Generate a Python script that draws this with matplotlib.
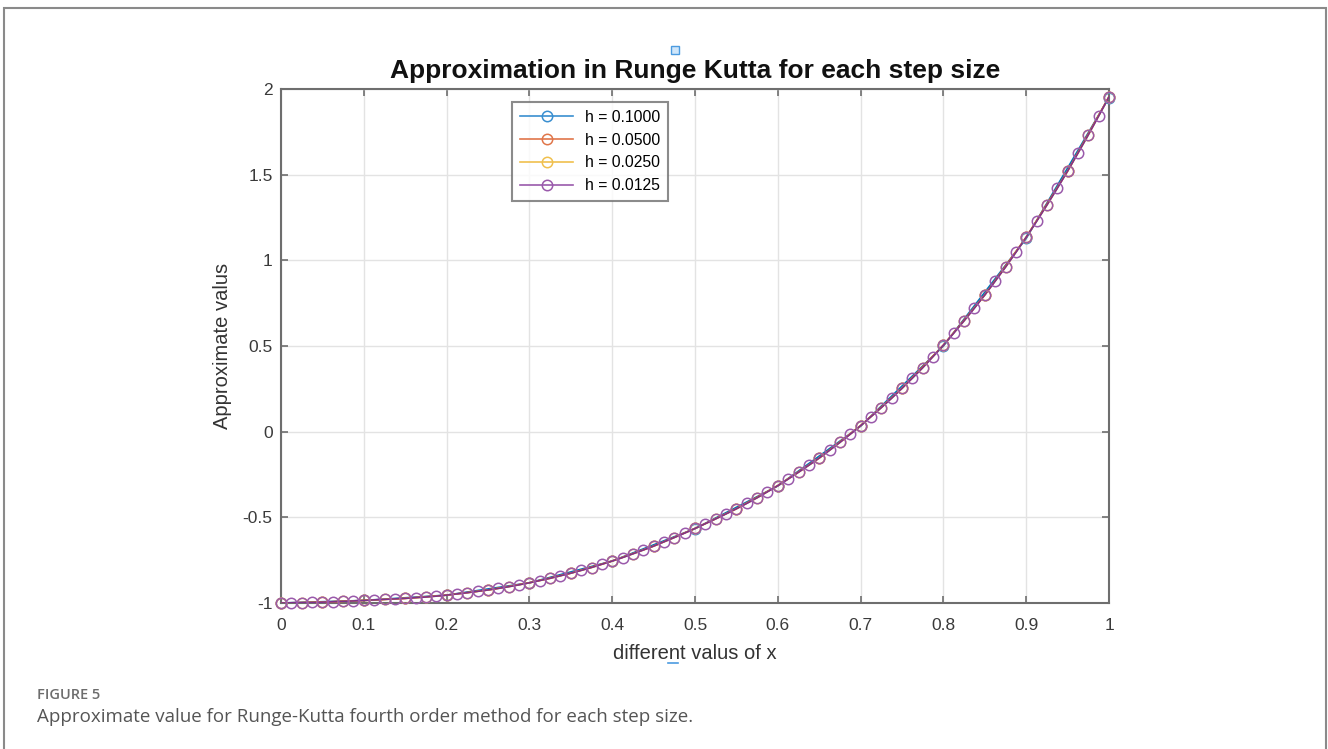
import matplotlib
matplotlib.use("Agg")
import matplotlib.pyplot as plt
from matplotlib.patches import Rectangle

# values
x_h1 = [0.0, 0.1, 0.2, 0.3, 0.4, 0.5, 0.6, 0.7, 0.8, 0.9, 1.0]
y_h1 = [-1.000, -0.985, -0.954, -0.882, -0.755, -0.566, -0.317, 0.032, 0.500,
        1.128, 1.950]

x_h2 = [0.0, 0.05, 0.1, 0.15, 0.2, 0.25, 0.3, 0.35, 0.4, 0.45, 0.5,
        0.55, 0.6, 0.65, 0.7, 0.75, 0.8, 0.85, 0.9, 0.95, 1.0]
y_h2 = [-1.000, -0.995, -0.985, -0.973, -0.954, -0.924, -0.882, -0.826, -0.755,
        -0.668, -0.565, -0.450, -0.315, -0.154, 0.035, 0.253, 0.505, 0.798,
        1.135, 1.521, 1.955]

x_h3 = [0.0, 0.025, 0.05, 0.075, 0.1, 0.125, 0.15, 0.175, 0.2, 0.225, 0.25,
        0.275, 0.3, 0.325, 0.35, 0.375, 0.4, 0.425, 0.45, 0.475, 0.5,
        0.525, 0.55, 0.575, 0.6, 0.625, 0.65, 0.675, 0.7, 0.725, 0.75,
        0.775, 0.8, 0.825, 0.85, 0.875, 0.9, 0.925, 0.95, 0.975, 1.0]
y_h3 = [-1.000, -0.998, -0.995, -0.990, -0.985, -0.979, -0.973, -0.965, -0.954,
        -0.940, -0.924, -0.905, -0.882, -0.856, -0.826, -0.793, -0.755,
        -0.713, -0.668, -0.618, -0.565, -0.509, -0.450, -0.386, -0.315,
        -0.237, -0.154, -0.063, 0.035, 0.140, 0.253, 0.373, 0.505, 0.647,
        0.798, 0.960, 1.135, 1.322, 1.521, 1.732, 1.955]

x_h4 = [0.0, 0.0125, 0.025, 0.0375, 0.05, 0.0625, 0.075, 0.0875,
        0.1, 0.1125, 0.125, 0.1375, 0.15, 0.1625, 0.175, 0.1875,
        0.2, 0.2125, 0.225, 0.2375, 0.25, 0.2625, 0.275, 0.2875,
        0.3, 0.3125, 0.325, 0.3375, 0.35, 0.3625, 0.375, 0.3875,
        0.4, 0.4125, 0.425, 0.4375, 0.45, 0.4625, 0.475, 0.4875,
        0.5, 0.5125, 0.525, 0.5375, 0.55, 0.5625, 0.575, 0.5875,
        0.6, 0.6125, 0.625, 0.6375, 0.65, 0.6625, 0.675, 0.6875,
        0.7, 0.7125, 0.725, 0.7375, 0.75, 0.7625, 0.775, 0.7875,
        0.8, 0.8125, 0.825, 0.8375, 0.85, 0.8625, 0.875, 0.8875,
        0.9, 0.9125, 0.925, 0.9375, 0.95, 0.9625, 0.975, 0.9875, 1.0]
y_h4 = [-1.000, -0.999, -0.998, -0.997, -0.995, -0.993, -0.990, -0.988,
        -0.985, -0.982, -0.979, -0.976, -0.973, -0.969, -0.965, -0.960,
        -0.954, -0.947, -0.940, -0.932, -0.924, -0.915, -0.905, -0.894,
        -0.882, -0.869, -0.856, -0.841, -0.826, -0.810, -0.793, -0.774,
        -0.755, -0.735, -0.713, -0.691, -0.668, -0.643, -0.618, -0.592,
        -0.565, -0.537, -0.509, -0.480, -0.450, -0.419, -0.386, -0.351,
        -0.315, -0.277, -0.237, -0.196, -0.154, -0.109, -0.063, -0.015,
        0.035, 0.087, 0.140, 0.195, 0.253, 0.312, 0.373, 0.438,
        0.505, 0.575, 0.647, 0.721, 0.798, 0.878, 0.960, 1.046,
        1.135, 1.227, 1.322, 1.420, 1.521, 1.625, 1.732, 1.842, 1.955]

labels = ["h = 0.1000", "h = 0.0500", "h = 0.0250", "h = 0.0125"]
colors = ["#0072BD", "#D95319", "#EDB120", "#7E2F8E"]
marker_colors = ["#3a8fd0", "#e0764a", "#f0c04e", "#9a5aab"]

x_ticks = [0, 0.1, 0.2, 0.3, 0.4, 0.5, 0.6, 0.7, 0.8, 0.9, 1]
x_tick_labels = ["0", "0.1", "0.2", "0.3", "0.4", "0.5", "0.6", "0.7", "0.8", "0.9", "1"]
y_ticks = [-1, -0.5, 0, 0.5, 1, 1.5, 2]
y_tick_labels = ["-1", "-0.5", "0", "0.5", "1", "1.5", "2"]

plt.rcParams["font.family"] = ["Liberation Sans", "DejaVu Sans"]

fig = plt.figure(figsize=(13.28, 7.49), dpi=100)
W, H = 1328.0, 749.0

# outer frame of the figure panel (bottom edge runs off the image)
fig.patches.append(Rectangle((4 / W, -0.1), 1322 / W, 1.1 - 8 / H,
                             transform=fig.transFigure, fill=False,
                             edgecolor="#8a8a8a", linewidth=1.5))

ax = fig.add_axes([281 / W, 1 - 603 / H, 828 / W, 514 / H])

series = [(x_h1, y_h1), (x_h2, y_h2), (x_h3, y_h3), (x_h4, y_h4)]
for (xs, ys), lab, col, mcol in zip(series, labels, colors, marker_colors):
    ax.plot(xs, ys, "-", color=col, linewidth=1.2, zorder=3)
    ax.plot(xs, ys, "o", color=mcol, markersize=7.5, markerfacecolor="none",
            markeredgewidth=1.1, clip_on=False, zorder=4)
    ax.plot([], [], "-o", color=mcol, label=lab, linewidth=1.2,
            markersize=7.5, markerfacecolor="none", markeredgewidth=1.1)

ax.set_xlim(0, 1)
ax.set_ylim(-1, 2)
ax.set_xticks(x_ticks)
ax.set_xticklabels(x_tick_labels)
ax.set_yticks(y_ticks)
ax.set_yticklabels(y_tick_labels)
ax.tick_params(direction="in", top=True, right=True, length=5, width=1.2,
               colors="#6e6e6e", labelcolor="#3a3a3a", labelsize=12.5)
ax.tick_params(axis="x", pad=11)
ax.tick_params(axis="y", pad=6)
for sp in ax.spines.values():
    sp.set_color("#6e6e6e")
    sp.set_linewidth(1.5)
ax.grid(True, color="#e3e3e3", linewidth=1.0)
ax.set_axisbelow(True)

ax.set_title("Approximation in Runge Kutta for each step size",
             fontsize=19, fontweight="bold", color="#111111", pad=8)
ax.set_xlabel("different valus of x", fontsize=14.5, color="#333333", labelpad=8)
ax.set_ylabel("Approximate valus", fontsize=14.5, color="#333333", labelpad=8)

leg = ax.legend(loc="upper left", bbox_to_anchor=(0.279, 0.975),
                borderaxespad=0, fontsize=11.3, frameon=True, fancybox=False,
                edgecolor="#6e6e6e", handlelength=3.4, borderpad=0.5,
                labelspacing=0.5, handletextpad=0.75)
leg.get_frame().set_linewidth(1.5)

# small selection marks left in the exported image
fig.patches.append(Rectangle((671 / W, 1 - 54 / H), 8 / W, 8 / H,
                             transform=fig.transFigure, facecolor="#cfe6fa",
                             edgecolor="#4c9be0", linewidth=1.0))
fig.lines.append(plt.Line2D([668 / W, 678 / W], [1 - 663 / H, 1 - 663 / H],
                            transform=fig.transFigure, color="#4c9be0",
                            linewidth=1.2))

fig.text(37 / W, 1 - 695 / H, "FIGURE 5", fontsize=10.5, color="#6d6d6d",
         fontweight="semibold", family=["Open Sans", "DejaVu Sans"],
         va="center", ha="left")
fig.text(37 / W, 1 - 717 / H,
         "Approximate value for Runge-Kutta fourth order method for each step size.",
         fontsize=13.5, color="#555555", family=["Open Sans", "DejaVu Sans"],
         va="center", ha="left")

fig.savefig("out.png", dpi=100)
